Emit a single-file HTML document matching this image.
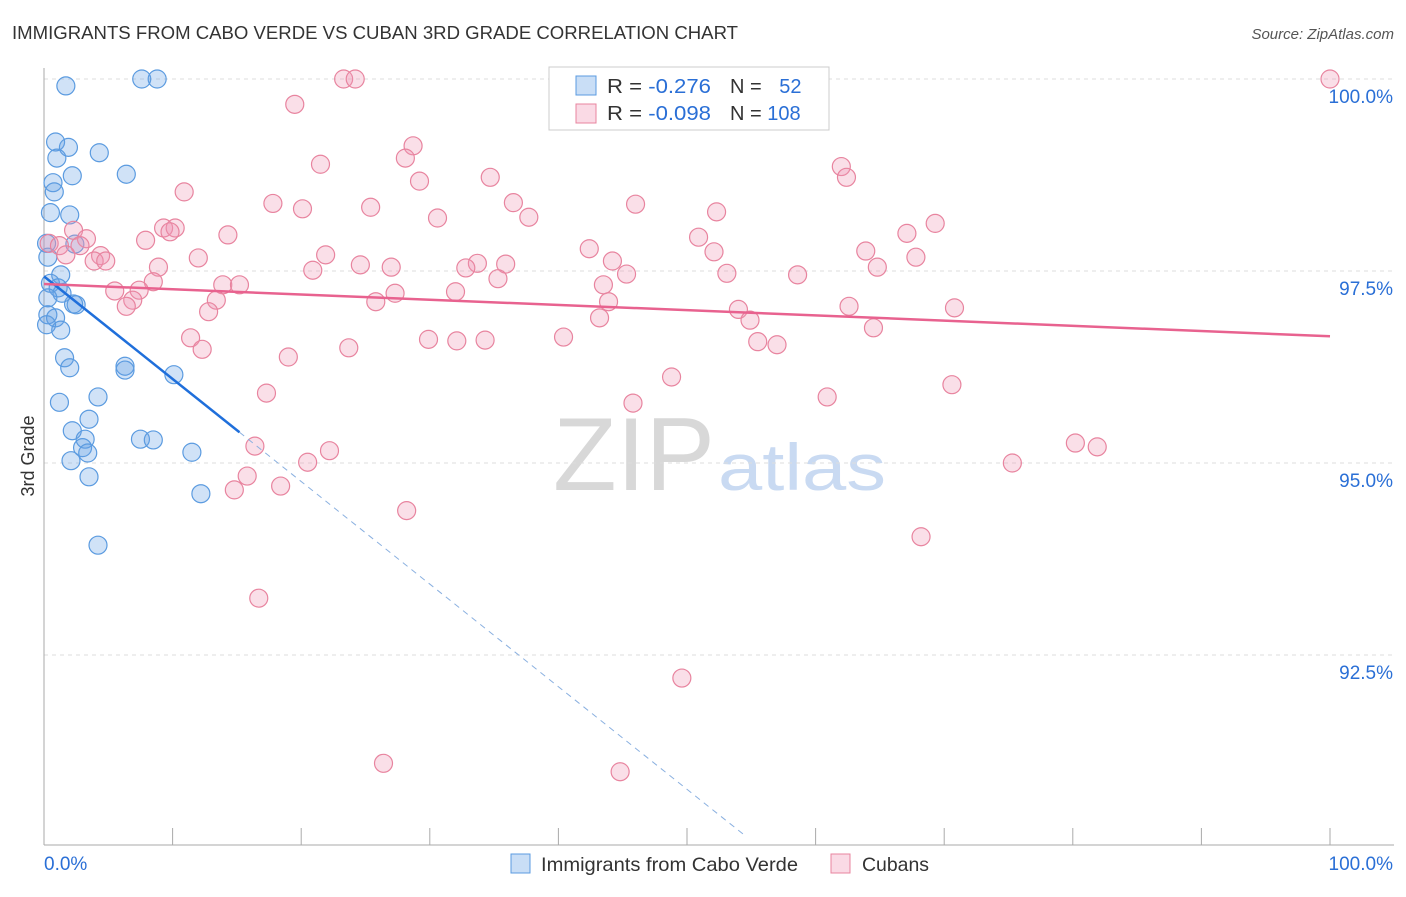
<!DOCTYPE html>
<html><head><meta charset="utf-8"><style>
body{margin:0;background:#fff;font-family:"Liberation Sans",sans-serif}
svg text{font-family:"Liberation Sans",sans-serif}
</style></head><body>
<svg width="1406" height="892" viewBox="0 0 1406 892">
<text x="12" y="39" font-size="18" fill="#333" textLength="726" lengthAdjust="spacingAndGlyphs">IMMIGRANTS FROM CABO VERDE VS CUBAN 3RD GRADE CORRELATION CHART</text>
<text x="1394" y="39" font-size="15" fill="#555" font-style="italic" text-anchor="end">Source: ZipAtlas.com</text>
<text x="553" y="490" font-size="104" fill="#d8d8d8" textLength="162" lengthAdjust="spacingAndGlyphs" font-family="Liberation Serif">ZIP</text>
<text x="718" y="490" font-size="66" fill="#c9daf2" textLength="168" lengthAdjust="spacingAndGlyphs">atlas</text>
<g id="grid"></g>
<g id="axes"></g>
<g id="pts"></g>
<g id="trends"></g>
<text x="34" y="456" font-size="18" fill="#333" text-anchor="middle" transform="rotate(-90 34 456)">3rd Grade</text>
<g>
<rect x="549" y="67" width="280" height="63" fill="#fff" stroke="#ccc"/>
<rect x="576" y="76" width="20" height="19" fill="rgba(100,160,230,0.35)" stroke="#5b9be0"/>
<rect x="576" y="104" width="20" height="19" fill="rgba(240,150,180,0.35)" stroke="#e8849f"/>
<text x="607" y="93" font-size="20" fill="#333" textLength="104" lengthAdjust="spacingAndGlyphs">R = <tspan fill="#2a6fd6">-0.276</tspan></text>
<text x="730" y="93" font-size="20" fill="#333">N = <tspan fill="#2a6fd6" dx="12">52</tspan></text>
<text x="607" y="120" font-size="20" fill="#333" textLength="104" lengthAdjust="spacingAndGlyphs">R = <tspan fill="#2a6fd6">-0.098</tspan></text>
<text x="730" y="120" font-size="20" fill="#333">N = <tspan fill="#2a6fd6">108</tspan></text>
</g>
<g>
<rect x="511" y="854" width="19" height="19" fill="rgba(100,160,230,0.35)" stroke="#5b9be0"/>
<text x="541" y="871" font-size="19.5" fill="#333" textLength="257" lengthAdjust="spacingAndGlyphs">Immigrants from Cabo Verde</text>
<rect x="831" y="854" width="19" height="19" fill="rgba(240,150,180,0.35)" stroke="#e8849f"/>
<text x="862" y="871" font-size="19.5" fill="#333" textLength="67" lengthAdjust="spacingAndGlyphs">Cubans</text>
</g>
</svg>
<script>
const blueX=[1.7,7.6,8.8,0.9,1.9,1.0,4.3,2.2,6.4,0.7,0.8,0.5,2.0,0.2,2.4,0.3,1.3,0.5,1.1,1.4,0.3,2.5,2.3,0.3,0.9,0.2,1.3,1.6,2.0,6.3,6.3,10.1,4.2,1.2,3.5,2.2,3.2,7.5,8.5,3.0,3.4,2.1,3.5,11.5,12.2,4.2];
const blueY=[99.91,100,100,99.18,99.11,98.97,99.04,98.74,98.76,98.65,98.53,98.26,98.23,97.86,97.85,97.68,97.45,97.34,97.28,97.21,97.15,97.06,97.07,96.93,96.89,96.8,96.73,96.37,96.24,96.26,96.21,96.15,95.86,95.79,95.57,95.42,95.31,95.31,95.30,95.2,95.13,95.03,94.82,95.14,94.6,93.93];
const pinkX=[100,23.3,24.2,19.5,28.7,28.1,21.5,62.0,62.4,34.7,29.2,10.9,17.8,36.5,46.0,20.1,25.4,52.3,37.7,30.6,69.3,2.3,9.3,10.2,9.8,14.3,67.1,50.9,7.9,3.3,0.4,1.2,2.8,42.4,63.9,52.1,21.9,1.7,4.4,3.9,4.8,12.0,67.8,44.2,24.6,33.7,35.9,27.0,32.8,8.9,64.8,20.9,45.3,53.1,58.6,35.3,8.5,13.9,15.2,43.5,5.5,7.4,27.3,32.0,13.4,6.9,43.9,6.4,25.8,54.0,62.6,70.8,12.8,54.9,43.2,64.5,11.4,29.9,32.1,34.3,40.4,55.5,57.0,12.3,23.7,19.0,48.8,70.6,17.3,60.9,45.8,80.2,81.9,16.4,22.2,20.5,75.3,15.8,14.8,18.4,28.2,68.2,16.7,49.6,26.4,44.8];
const pinkY=[100,100,100,99.67,99.13,98.97,98.89,98.86,98.72,98.72,98.67,98.53,98.38,98.39,98.37,98.31,98.33,98.27,98.2,98.19,98.12,98.03,98.06,98.06,98.01,97.97,97.99,97.94,97.9,97.92,97.86,97.83,97.83,97.79,97.76,97.75,97.71,97.71,97.7,97.63,97.63,97.67,97.68,97.63,97.58,97.6,97.59,97.55,97.54,97.55,97.55,97.51,97.46,97.47,97.45,97.4,97.36,97.32,97.32,97.32,97.24,97.25,97.21,97.23,97.12,97.12,97.1,97.04,97.1,97.0,97.04,97.02,96.97,96.86,96.89,96.76,96.63,96.61,96.59,96.6,96.64,96.58,96.54,96.48,96.5,96.38,96.12,96.02,95.91,95.86,95.78,95.26,95.21,95.22,95.16,95.01,95.0,94.83,94.65,94.7,94.38,94.04,93.24,92.2,91.09,90.98];
const yTicks=[100,97.5,95,92.5];
const yTickLabels=["100.0%","97.5%","95.0%","92.5%"];
const xTicks=[0,10,20,30,40,50,60,70,80,90,100];
const blueTrend=[[0,97.43],[15.2,95.40]];
const blueTrendExt=[[15.2,95.40],[54.5,90.15]];
const pinkTrend=[[0,97.33],[100,96.65]];
const NS="http://www.w3.org/2000/svg";
const sx=v=>44+v*12.86, sy=v=>79+(100-v)*76.8;
function mk(tag,attrs,parent){const e=document.createElementNS(NS,tag);for(const k in attrs)e.setAttribute(k,attrs[k]);document.getElementById(parent).appendChild(e);return e;}
yTicks.forEach((t,i)=>{
 const g=mk('line',{x1:44,x2:1394,y1:sy(t),y2:sy(t),stroke:'#ddd','stroke-dasharray':'4 4'},'grid');
 
 
 const tx=mk('text',{x:1393,y:sy(t)+24,'font-size':19,fill:'#2a6fd6','text-anchor':'end'},'grid');
 tx.textContent=yTickLabels[i];
 
 
});
const ax=mk('line',{x1:44,x2:44,y1:68,y2:845,stroke:'#aaa'},'axes');


const bx=mk('line',{x1:44,x2:1394,y1:845,y2:845,stroke:'#aaa'},'axes');


xTicks.forEach(t=>{
 const l=mk('line',{x1:sx(t),x2:sx(t),y1:828,y2:845,stroke:'#aaa'},'axes');
 
 
});
const xl0=mk('text',{x:44,y:870,'font-size':19,fill:'#2a6fd6'},'axes');xl0.textContent='0.0%';


const xl1=mk('text',{x:1393,y:870,'font-size':19,fill:'#2a6fd6','text-anchor':'end'},'axes');xl1.textContent='100.0%';


blueX.forEach((x,i)=>{
 const c=mk('circle',{cx:sx(x),cy:sy(blueY[i]),r:9,fill:'rgba(100,160,230,0.3)',stroke:'#5b9be0','stroke-width':1.2},'pts');
 
 
});
pinkX.forEach((x,i)=>{
 const c=mk('circle',{cx:sx(x),cy:sy(pinkY[i]),r:9,fill:'rgba(240,150,180,0.3)',stroke:'#e8849f','stroke-width':1.2},'pts');
 
 
});
const l1=mk('line',{x1:sx(blueTrend[0][0]),y1:sy(blueTrend[0][1]),x2:sx(blueTrend[1][0]),y2:sy(blueTrend[1][1]),stroke:'#1f6fdb','stroke-width':2.5},'trends');


const l2=mk('line',{x1:sx(blueTrendExt[0][0]),y1:sy(blueTrendExt[0][1]),x2:sx(blueTrendExt[1][0]),y2:sy(blueTrendExt[1][1]),stroke:'#8ab0e0','stroke-width':1,'stroke-dasharray':'6 5'},'trends');


const l3=mk('line',{x1:sx(pinkTrend[0][0]),y1:sy(pinkTrend[0][1]),x2:sx(pinkTrend[1][0]),y2:sy(pinkTrend[1][1]),stroke:'#e8628f','stroke-width':2.5},'trends');


</script>
</body></html>
